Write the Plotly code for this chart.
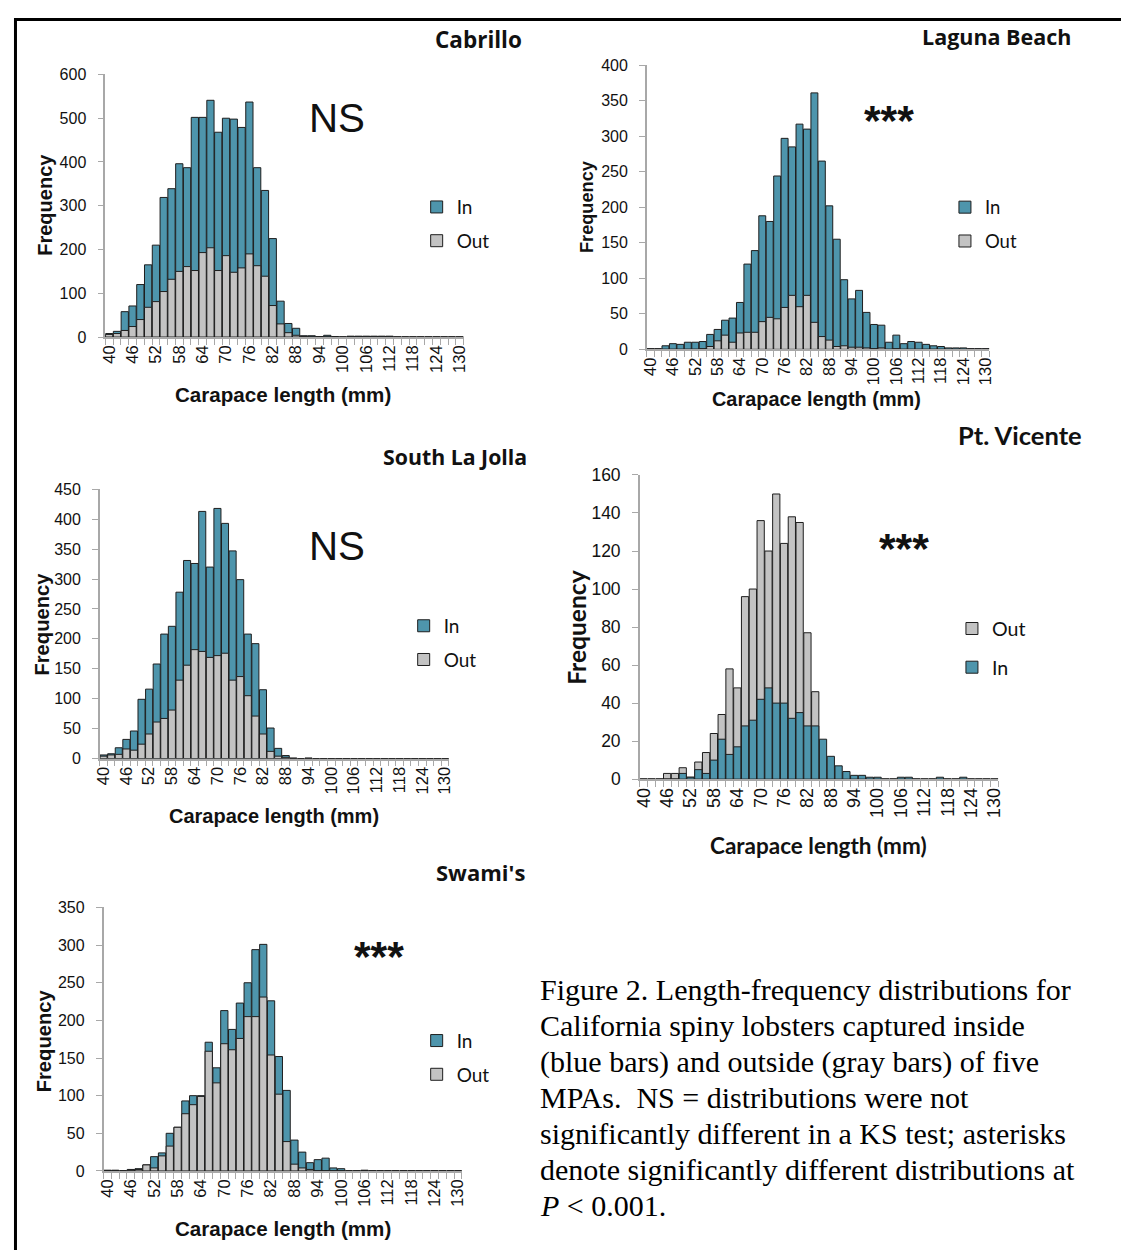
import plotly.graph_objects as go

W, H = 1129, 1252

# ---------------- data ----------------
lengths = list(range(40, 131, 2))          # 46 size bins (mm)
tick_vals = list(range(40, 131, 6))

cabrillo_in = [8, 13, 58, 71, 120, 165, 210, 319, 339, 396, 387, 502, 502, 541, 468, 500,
               498, 479, 537, 387, 335, 225, 82, 31, 20, 3, 3, 1, 4, 1, 0, 2, 2, 2, 2, 2,
               2, 0, 0, 0, 0, 0, 0, 0, 0, 0]
cabrillo_out = [6, 8, 15, 24, 40, 68, 81, 104, 132, 150, 161, 152, 193, 204, 152, 186,
                148, 158, 190, 163, 139, 72, 30, 10, 4, 1, 0, 0, 0, 0, 0, 0, 0, 0, 0, 0,
                0, 0, 0, 0, 0, 0, 0, 0, 0, 0]

laguna_in = [1, 1, 5, 8, 7, 10, 10, 11, 21, 28, 41, 44, 66, 120, 139, 188, 180, 244, 297,
             285, 317, 310, 361, 265, 202, 155, 98, 71, 83, 52, 35, 34, 10, 20, 8, 11, 10,
             7, 5, 4, 2, 2, 2, 1, 1, 1]
laguna_out = [0, 0, 0, 0, 0, 0, 0, 1, 4, 12, 20, 10, 23, 24, 24, 39, 45, 43, 59, 76, 60,
              76, 38, 18, 13, 4, 5, 3, 3, 2, 1, 2, 0, 1, 0, 0, 0, 0, 0, 0, 0, 0, 0, 0, 0, 0]

lajolla_in = [6, 8, 18, 32, 46, 99, 116, 158, 208, 221, 278, 331, 326, 413, 320, 418, 393,
              347, 299, 208, 192, 115, 51, 17, 5, 1, 0, 1, 0, 0, 0, 0, 0, 0, 0, 0, 0, 0,
              0, 0, 0, 0, 0, 0, 0, 0]
lajolla_out = [4, 6, 7, 16, 14, 24, 41, 61, 67, 81, 131, 156, 182, 179, 169, 172, 176,
               131, 137, 105, 71, 41, 12, 4, 2, 0, 0, 0, 0, 0, 0, 0, 0, 0, 0, 0, 0, 0, 0,
               0, 0, 0, 0, 0, 0, 0]

vicente_out = [0, 0, 0, 3, 3, 6, 1, 9, 14, 24, 34, 58, 48, 96, 100, 136, 120, 150, 124,
               138, 135, 77, 46, 0, 0, 0, 0, 0, 0, 0, 0, 0, 0, 0, 0, 0, 0, 0, 0, 0, 0, 0,
               0, 0, 0, 0]
vicente_in = [0, 0, 0, 0, 0, 3, 1, 5, 3, 10, 21, 13, 17, 28, 31, 42, 48, 40, 40, 32, 35,
              28, 28, 21, 12, 7, 4, 2, 2, 1, 1, 0, 0, 1, 1, 0, 0, 0, 1, 0, 0, 1, 0, 0, 0, 0]

swamis_in = [1, 1, 0, 2, 3, 8, 19, 24, 50, 58, 93, 100, 100, 171, 137, 213, 188, 223, 250,
             294, 301, 226, 152, 107, 41, 25, 11, 15, 17, 4, 3, 0, 0, 1, 0, 0, 0, 0, 0, 0,
             0, 0, 0, 0, 0, 0]
swamis_out = [0, 0, 0, 1, 2, 8, 4, 20, 33, 58, 76, 88, 99, 159, 117, 169, 161, 176, 205,
              205, 231, 154, 102, 39, 9, 4, 2, 0, 0, 0, 0, 0, 0, 0, 0, 0, 0, 0, 0, 0, 0, 0,
              0, 0, 0, 0]

# ---------------- styling helpers ----------------
BLUE = "#4E95AC"
GRAY = "#C3C3C3"
EDGE = "#1E1E1E"
AXC = "#A8A8A8"
SANS = "Liberation Sans, Arial, sans-serif"
TITLEF = "Open Sans, sans-serif"
LATO = "Lato, sans-serif"

# page placement calibration (target pixel -> figure pixel)
AX, BX = 0.9907, 11.3
AY, BY = 0.9845, 16.8


def fx(x):
    return (x - BX) / AX


def fy(y):
    return (y - BY) / AY


def px(x):
    return fx(x) / W


def py(y):
    return 1 - fy(y) / H


panels = [
    dict(x0=102.7, x1=461.5, yt=73.3, yb=336.0, ymax=600, dtick=100, tf=16,
         series=[("In", cabrillo_in, BLUE), ("Out", cabrillo_out, GRAY)]),
    dict(x0=645.0, x1=988.0, yt=64.0, yb=348.3, ymax=400, dtick=50, tf=16,
         series=[("In", laguna_in, BLUE), ("Out", laguna_out, GRAY)]),
    dict(x0=97.2, x1=446.8, yt=488.3, yb=757.7, ymax=450, dtick=50, tf=16,
         series=[("In", lajolla_in, BLUE), ("Out", lajolla_out, GRAY)]),
    dict(x0=638.0, x1=997.0, yt=474.0, yb=778.3, ymax=160, dtick=20, tf=17.5,
         series=[("Out", vicente_out, GRAY), ("In", vicente_in, BLUE)]),
    dict(x0=101.0, x1=459.8, yt=906.7, yb=1170.3, ymax=350, dtick=50, tf=16,
         series=[("In", swamis_in, BLUE), ("Out", swamis_out, GRAY)]),
]

# legend: symbol centre x, first item centre y, font size, item spacing
legend_pos = [
    (436, 207, 19, 34),
    (965, 207, 18.5, 34),
    (423, 626, 19, 34),
    (972, 629, 19.6, 39),
    (436, 1041, 19, 34),
]

fig = go.Figure()
layout = {}

for i, p in enumerate(panels):
    n = i + 1
    xa = "x" if n == 1 else f"x{n}"
    ya = "y" if n == 1 else f"y{n}"
    lg = "legend" if n == 1 else f"legend{n}"
    for name, vals, col in p["series"]:
        fig.add_trace(go.Bar(
            x=lengths, y=vals, name=name, xaxis=xa, yaxis=ya, width=1.86,
            marker=dict(color=col, line=dict(color=EDGE, width=1)),
            legend=lg, legendgroup=f"{n}{name}", showlegend=True,
        ))
    layout[f"xaxis{n}" if n > 1 else "xaxis"] = dict(
        domain=[px(p["x0"]), px(p["x1"])], anchor=ya, range=[39, 131],
        tickmode="array", tickvals=tick_vals, ticktext=[str(v) for v in tick_vals],
        tickangle=-90, ticks="", showline=True, linecolor=AXC, linewidth=1.5,
        showgrid=False, zeroline=False,
        tickfont=dict(family=SANS, size=p["tf"] + 0.5, color="#111"),
        minor=dict(tickmode="linear", tick0=39, dtick=2, ticks="outside", ticklen=6,
                   tickcolor=AXC, tickwidth=1, showgrid=False),
    )
    layout[f"yaxis{n}" if n > 1 else "yaxis"] = dict(
        domain=[py(p["yb"]), py(p["yt"])], anchor=xa, range=[0, p["ymax"]],
        tickmode="linear", tick0=0, dtick=p["dtick"], ticks="outside", ticklen=6,
        tickcolor=AXC, showline=True, linecolor=AXC, linewidth=1.5, showgrid=False,
        zeroline=False, ticklabelstandoff=8,
        tickfont=dict(family=SANS, size=p["tf"], color="#111"),
    )
    sx, sy, fs, gap = legend_pos[i]
    item_h = 1.5 * fs
    layout[lg] = dict(
        x=(fx(sx) - 21.7) / W, y=1 - (fy(sy) - 1.07 * fs) / H,
        xanchor="left", yanchor="top",
        bgcolor="rgba(0,0,0,0)", borderwidth=0, traceorder="grouped",
        tracegroupgap=max(0, gap / AY - item_h), itemwidth=30,
        font=dict(family=LATO, size=fs, color="#111"),
    )

annotations = []


def txt(x, y, s, size, family=SANS, angle=0, xanchor="center", color="#111"):
    annotations.append(dict(
        x=px(x), y=py(y), xref="paper", yref="paper", text=s, showarrow=False,
        font=dict(family=family, size=size, color=color), textangle=angle,
        xanchor=xanchor, yanchor="middle",
    ))


# chart titles
txt(476, 38, "<b>Cabrillo</b>", 22.5, TITLEF)
txt(995, 35, "<b>Laguna Beach</b>", 21.5, TITLEF)
txt(453, 456, "<b>South La Jolla</b>", 21.3, TITLEF)
txt(1019, 434, "<b>Pt. Vicente</b>", 25.5, LATO)
txt(478, 871, "<b>Swami's</b>", 22, TITLEF)

# axis titles
txt(42, 204, "<b>Frequency</b>", 20, SANS, angle=-90)
txt(281, 393, "<b>Carapace length (mm)</b>", 20.6, SANS)
txt(585, 205, "<b>Frequency</b>", 18.2, SANS, angle=-90)
txt(815, 398, "<b>Carapace length (mm)</b>", 19.9, SANS)
txt(39, 623, "<b>Frequency</b>", 20.2, SANS, angle=-90)
txt(272, 815, "<b>Carapace length (mm)</b>", 20, SANS)
txt(575, 626, "<b>Frequency</b>", 24.6, LATO, angle=-90)
txt(817, 845, "<b>Carapace length (mm)</b>", 22.5, LATO)
txt(41, 1040, "<b>Frequency</b>", 20.2, SANS, angle=-90)
txt(281, 1228, "<b>Carapace length (mm)</b>", 20.6, SANS)

# significance labels
txt(335, 117, "NS", 40.3, SANS)
txt(335, 546, "NS", 40.3, SANS)
txt(887, 118.6, "<b>***</b>", 42.7, SANS)
txt(902, 546.6, "<b>***</b>", 42.7, SANS)
txt(377, 955.6, "<b>***</b>", 42.7, SANS)

# caption
SERIF = "Liberation Serif, Times New Roman, serif"
caption = [
    "Figure 2. Length-frequency distributions for",
    "California spiny lobsters captured inside",
    "(blue bars) and outside (gray bars) of five",
    "MPAs.\u00a0 NS = distributions were not",
    "significantly different in a KS test; asterisks",
    "denote significantly different distributions at",
    "<i>P</i> &lt; 0.001.",
]
for k, line in enumerate(caption):
    txt(536, 989 + 36 * k, line, 30, SERIF, xanchor="left", color="#000")

shapes = [
    dict(type="line", xref="paper", yref="paper", x0=1.5 / W, x1=1.5 / W, y0=1, y1=0,
         line=dict(color="#000", width=3)),
    dict(type="line", xref="paper", yref="paper", x0=0, x1=px(1127), y0=1 - 1.5 / H,
         y1=1 - 1.5 / H, line=dict(color="#000", width=3)),
    dict(type="line", xref="paper", yref="paper", x0=px(1124.5), x1=px(1124.5), y0=1,
         y1=0, line=dict(color="#000", width=5)),
]

fig.update_layout(
    width=W, height=H, margin=dict(l=0, r=0, t=0, b=0),
    paper_bgcolor="white", plot_bgcolor="rgba(0,0,0,0)",
    barmode="overlay", annotations=annotations, shapes=shapes,
    **layout,
)

fig.write_html("out.html")
